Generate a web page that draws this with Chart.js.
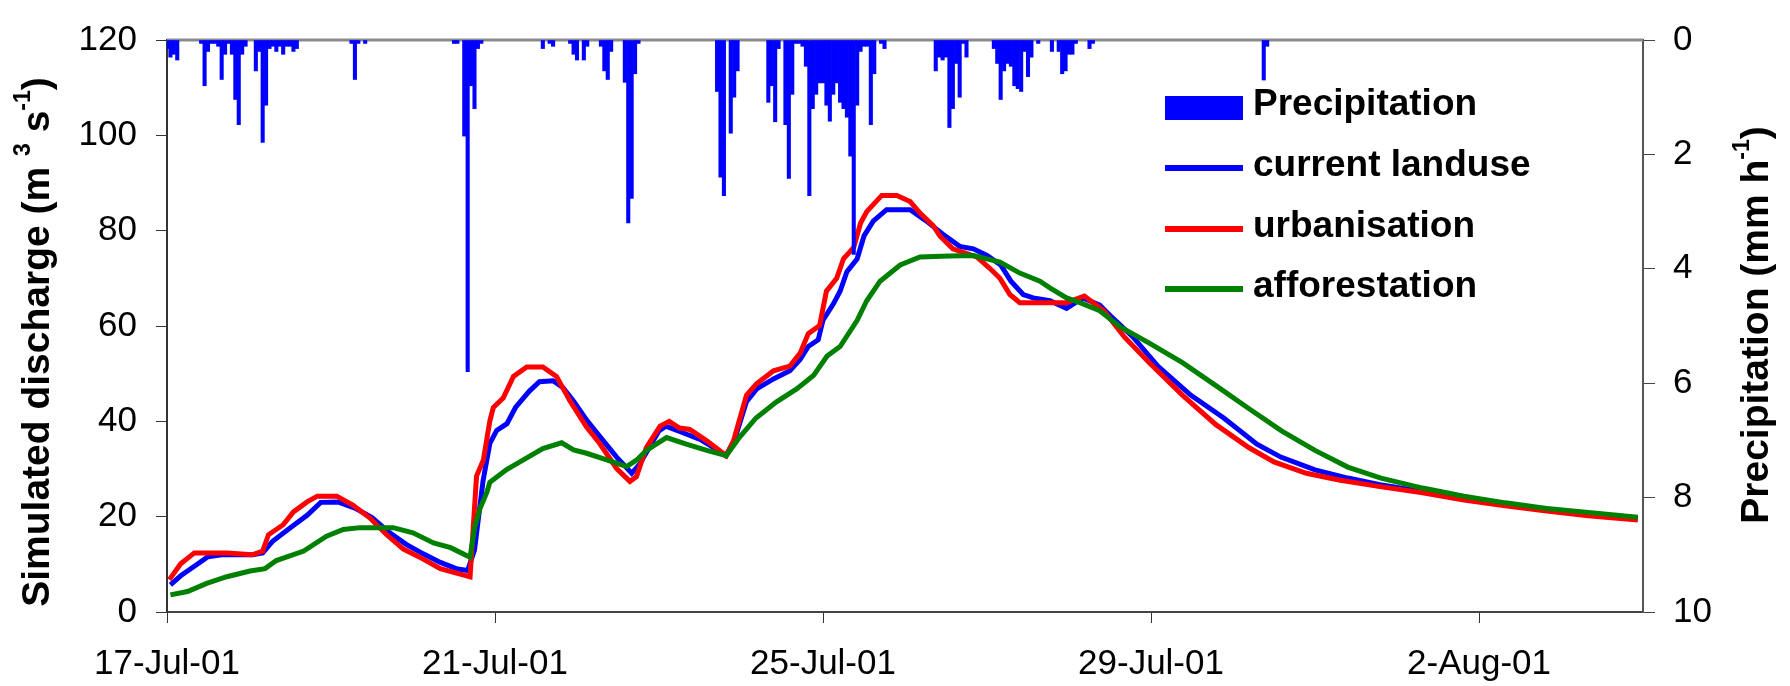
<!DOCTYPE html>
<html>
<head>
<meta charset="utf-8">
<script src="https://cdn.jsdelivr.net/npm/chart.js@4.4.1/dist/chart.umd.min.js"></script>
<style>
  body { margin: 0; background: #fff; }
  #wrap { width: 1790px; height: 686px; position: relative; }
</style>
</head>
<body>
<div id="wrap"><canvas id="chart"></canvas></div>
<script>
// 1. DATOS (hora desde 17-Jul-01 00:00, valor)
const dayTicks = [0, 96, 192, 288, 384];
const dayLabels = ['17-Jul-01', '21-Jul-01', '25-Jul-01', '29-Jul-01', '2-Aug-01'];

const currentLanduse = [
  [1,5.7],[4,7.6],[8,9.6],[12,11.6],[16,12.0],[25,12.0],[28,12.4],[31,14.9],[36,17.6],[41,20.3],
  [45,23.0],[50,23.1],[55,21.8],[60,19.8],[65,16.7],[70,14.2],[75,12.2],[80,10.4],[85,9.0],[88,8.7],
  [90,13.0],[92.5,27.5],[94.5,35.4],[96.5,38.1],[99.5,39.5],[102,42.9],[106,46.3],[109,48.3],[113,48.5],[116,47.0],
  [119,44.2],[123,40.1],[126.7,36.8],[131.6,32.5],[136,29.1],[138.4,31.1],[144,38.0],[146,39.0],[151,37.6],[156,36.2],
  [160,34.5],[163.5,32.8],[166,35.9],[169.6,44.1],[172.6,46.8],[177.5,48.9],[182.3,50.6],[185.3,53.0],[187.7,55.7],[190.6,57.1],
  [192,61.2],[195,64.6],[197,67.3],[199,71.4],[202,74.1],[204,78.9],[206.7,82.0],[210.6,84.4],[217.5,84.4],[222.3,82.0],
  [227,79.3],[232,76.7],[236,76.2],[240,74.8],[244,72.8],[247,69.4],[250.6,66.6],[253.5,65.9],[258.4,65.3],[263.3,63.7],
  [268,65.9],[273,64.4],[276.6,61.8],[282.7,57.7],[290,51.6],[299.6,45.5],[309.3,40.7],[319,35.2],[326,32.5],[336,29.8],
  [345.6,28.1],[355,26.7],[367.5,25.3],[379.6,24.0],[391.7,22.6],[403.8,21.6],[416,20.5],[430.5,19.7]
];

const urbanisation = [
  [0.7,6.8],[4,10.1],[8,12.4],[17.5,12.4],[25,12.0],[28,12.8],[29.7,16.2],[34,18.3],[37,21.0],[41,23.1],
  [44,24.3],[49.7,24.3],[54.5,22.4],[59.4,19.7],[64.3,16.2],[69.2,13.2],[75,11.1],[80,9.1],[85,8.1],[88.7,7.4],
  [90.6,28.5],[92.6,31.9],[94.5,40.1],[95.5,42.9],[98.4,44.9],[101.4,49.4],[105.3,51.4],[110,51.4],[114,49.4],[118,44.2],
  [122.8,38.8],[126.7,35.3],[131.6,30.1],[135.5,27.4],[137.4,28.4],[140.3,34.5],[144.3,39.0],[147,40.0],[150,38.6],[153,38.3],
  [158,35.9],[163.7,32.8],[165.8,35.9],[169.6,45.5],[172.6,47.9],[177.5,50.6],[182.3,51.6],[185.3,54.3],[187.7,58.4],[191,60.1],
  [193,67.3],[196,70.0],[198,74.1],[201,76.5],[203,81.6],[204.8,84.0],[209.2,87.4],[213.6,87.4],[217.5,86.1],[220.4,83.7],
  [224.3,81.0],[226.2,78.9],[230,76.2],[237,74.5],[240.8,72.1],[243.8,70.0],[246.7,66.6],[249.6,64.9],[263.3,64.9],[268.5,66.3],
  [274.2,63.2],[280.2,57.7],[287.5,52.3],[297.2,45.5],[307,39.3],[316.6,34.5],[324,31.5],[333.5,29.1],[343,27.7],[355,26.3],
  [367.5,25.0],[379.6,23.5],[391.7,22.3],[403.8,21.2],[416,20.2],[430.5,19.3]
];

const afforestation = [
  [1,3.6],[6,4.3],[11.6,6.0],[17.5,7.4],[24.3,8.6],[28.7,9.1],[32,10.8],[40,12.8],[46.7,15.9],[51.6,17.3],
  [56.5,17.7],[66.2,17.7],[72,16.6],[78,14.5],[83,13.5],[88.7,11.5],[90,17.6],[91.6,21.7],[93.6,25.1],[94.5,27.2],
  [99.4,29.9],[104.3,31.9],[110,34.3],[115.5,35.5],[119,34.0],[122.8,33.3],[128.7,31.9],[134.5,30.5],[137.5,31.9],[140.3,33.9],
  [146.2,36.6],[152,35.2],[158,33.9],[163.7,32.8],[167.5,36.6],[172.4,40.7],[178.4,44.1],[184.3,46.8],[189.2,49.6],[193.2,53.7],
  [197,55.7],[202,61.2],[204.8,65.3],[208.7,69.4],[214.6,72.8],[220.4,74.5],[229,74.7],[236,74.8],[243.8,73.4],[249.6,71.1],
  [255.5,69.4],[258.4,68.0],[263.3,65.9],[267.2,64.9],[273,63.2],[279,59.8],[287.5,56.4],[297.2,52.3],[307,47.5],[316.6,42.7],
  [326.2,38.0],[336,33.9],[345.6,30.4],[355.3,28.1],[367.5,26.0],[379.6,24.3],[391.7,22.9],[403.8,21.7],[416,20.9],[430.5,19.9]
];

// precipitación horaria (hora, mm/h)
const precipitation = [
  [0,0.15],[1,0.3],[2,0.25],[3,0.35],[10,0.06],[11,0.8],[12,0.2],[13,0.06],[14,0.06],[15,0.11],
  [16,0.69],[17,0.25],[18,0.06],[19,0.25],[20,1.04],[21,1.48],[22,0.25],[23,0.11],[26,0.54],[27,0.2],
  [28,1.79],[29,1.14],[30,0.15],[31,0.11],[32,0.2],[33,0.11],[34,0.25],[35,0.11],[36,0.11],[37,0.2],
  [38,0.15],[54,0.06],[55,0.69],[56,0.06],[58,0.06],[84,0.06],[85,0.06],[87,1.68],[88,5.8],[89,0.8],
  [90,1.2],[91,0.15],[92,0.06],[110,0.15],[112,0.06],[113,0.11],[118,0.06],[119,0.25],[120,0.35],[122,0.35],
  [123,0.11],[127,0.11],[128,0.54],[129,0.69],[130,0.2],[134,0.74],[135,3.2],[136,2.77],[137,0.59],[138,0.06],
  [161,0.9],[162,2.4],[163,2.72],[165,1.63],[166,1.0],[167,0.54],[176,1.09],[177,0.8],[178,1.43],[179,0.15],
  [181,1.48],[182,2.42],[183,0.95],[184,0.06],[185,0.06],[186,0.11],[187,0.46],[188,2.72],[189,1.2],[190,0.95],
  [191,0.75],[192,0.75],[193,1.14],[194,1.42],[195,0.95],[196,0.75],[197,1.09],[198,1.2],[199,1.35],[200,2.03],
  [201,3.75],[202,1.14],[203,0.2],[204,0.11],[205,0.11],[206,1.48],[207,0.59],[209,0.06],[210,0.15],[225,0.54],
  [226,0.3],[227,0.35],[228,0.3],[229,1.53],[230,1.2],[231,0.41],[232,1.0],[233,0.06],[234,0.3],[242,0.15],
  [243,0.41],[244,1.04],[245,0.54],[246,0.41],[247,0.46],[248,0.8],[249,0.85],[250,0.9],[251,0.2],[252,0.64],
  [253,0.3],[255,0.06],[259,0.2],[261,0.2],[262,0.59],[263,0.54],[264,0.25],[265,0.25],[266,0.06],[270,0.15],
  [271,0.06],[321,0.7],[322,0.11]
];

const FONT = '"Liberation Sans", Arial, sans-serif';
const toXY = arr => arr.map(([x, y]) => ({ x, y }));

// 2. TITULOS DE EJES CON SUPERINDICES
function drawRotatedTitle(ctx, parts, cx, cy, size) {
  const big = `bold ${size}px ${FONT}`;
  const small = `bold ${Math.round(size * 0.6)}px ${FONT}`;
  ctx.save();
  ctx.translate(cx, cy);
  ctx.rotate(-Math.PI / 2);
  let total = 0;
  parts.forEach(p => {
    ctx.font = p.sup ? small : big;
    p.w = ctx.measureText(p.t).width;
    total += p.w;
  });
  let x = -total / 2;
  ctx.fillStyle = '#000';
  ctx.textAlign = 'left';
  ctx.textBaseline = 'middle';
  parts.forEach(p => {
    ctx.font = p.sup ? small : big;
    ctx.fillText(p.t, x, p.sup ? -size * 0.36 : 0);
    x += p.w;
  });
  ctx.restore();
}

const decorPlugin = {
  id: 'decor',
  beforeDatasetsDraw(chart) {
    const { ctx, chartArea: a } = chart;
    ctx.save();
    ctx.strokeStyle = '#8a8a8a';
    ctx.lineWidth = 3;
    ctx.beginPath();
    ctx.moveTo(a.left, a.top);
    ctx.lineTo(a.right, a.top);
    ctx.stroke();
    ctx.restore();
  },
  afterDraw(chart) {
    const ctx = chart.ctx;
    drawRotatedTitle(ctx, [
      { t: 'Simulated discharge (m ' }, { t: '3', sup: true }, { t: ' s' }, { t: '-1', sup: true }, { t: ')' }
    ], 38, 342, 39);
    drawRotatedTitle(ctx, [
      { t: 'Precipitation (mm h' }, { t: '-1', sup: true }, { t: ')' }
    ], 1757, 325, 39);

    // leyenda
    const ds = chart.data.datasets;
    const rows = [
      { i: 0, base: 115 }, { i: 1, base: 176 }, { i: 2, base: 237 }, { i: 3, base: 297 }
    ];
    ctx.save();
    ctx.font = `bold 37px ${FONT}`;
    ctx.textAlign = 'left';
    ctx.textBaseline = 'alphabetic';
    rows.forEach(r => {
      const d = ds[r.i];
      if (d.type === 'bar') {
        ctx.fillStyle = d.backgroundColor;
        ctx.fillRect(1165, r.base - 19, 78, 24);
      } else {
        ctx.strokeStyle = d.borderColor;
        ctx.lineWidth = 6;
        ctx.beginPath();
        ctx.moveTo(1165, r.base - 8);
        ctx.lineTo(1243, r.base - 8);
        ctx.stroke();
      }
      ctx.fillStyle = '#000';
      ctx.fillText(d.label, 1253, r.base);
    });
    ctx.restore();
  }
};

// 3. GRAFICO
new Chart(document.getElementById('chart'), {
  type: 'line',
  data: {
    datasets: [
      {
        type: 'bar', label: 'Precipitation', data: toXY(precipitation), yAxisID: 'y2',
        backgroundColor: '#0000ff', borderWidth: 0, barPercentage: 1, categoryPercentage: 1, order: 0
      },
      {
        label: 'current landuse', data: toXY(currentLanduse), yAxisID: 'y',
        borderColor: '#0000ff', borderWidth: 5, pointRadius: 0, order: 3
      },
      {
        label: 'urbanisation', data: toXY(urbanisation), yAxisID: 'y',
        borderColor: '#ff0000', borderWidth: 5, pointRadius: 0, order: 2
      },
      {
        label: 'afforestation', data: toXY(afforestation), yAxisID: 'y',
        borderColor: '#008000', borderWidth: 5, pointRadius: 0, order: 1
      }
    ]
  },
  options: {
    responsive: true,
    maintainAspectRatio: false,
    animation: false,
    layout: { padding: { top: 26, left: 0, right: 0, bottom: 0 } },
    plugins: { legend: { display: false }, tooltip: { enabled: false } },
    scales: {
      x: {
        type: 'linear', min: 0, max: 432, offset: false,
        afterBuildTicks: s => { s.ticks = dayTicks.map(v => ({ value: v })); },
        afterFit: s => { s.height = 74; },
        ticks: {
          callback: v => dayLabels[dayTicks.indexOf(v)],
          font: { family: FONT, size: 35 }, color: '#000', padding: 20, maxRotation: 0
        },
        grid: { offset: false, drawOnChartArea: false, tickLength: 11, color: '#333' },
        border: { color: '#444', width: 2 }
      },
      y: {
        position: 'left', min: 0, max: 120,
        afterFit: s => { s.width = 167; },
        ticks: { stepSize: 20, font: { family: FONT, size: 35 }, color: '#000', padding: 19 },
        grid: { drawOnChartArea: false, tickLength: 11, color: '#333' },
        border: { color: '#333', width: 2 }
      },
      y2: {
        position: 'right', min: 0, max: 10, reverse: true,
        afterFit: s => { s.width = 147; },
        ticks: { stepSize: 2, font: { family: FONT, size: 35 }, color: '#000', padding: 18 },
        grid: { drawOnChartArea: false, tickLength: 12, color: '#444' },
        border: { color: '#555', width: 2 }
      }
    }
  },
  plugins: [decorPlugin]
});
</script>
</body>
</html>
